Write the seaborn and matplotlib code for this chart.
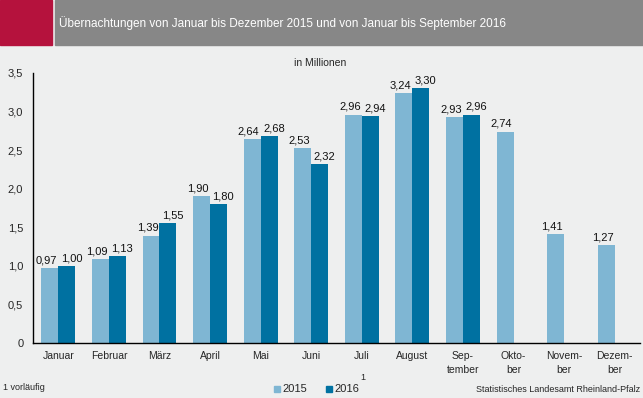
import matplotlib
matplotlib.use("Agg")
import matplotlib.pyplot as plt
import seaborn as sns
import numpy as np
import pandas as pd
from matplotlib.patches import Rectangle

months = ["Januar", "Februar", "März", "April", "Mai", "Juni", "Juli", "August",
          "Sep-\ntember", "Okto-\nber", "Novem-\nber", "Dezem-\nber"]
vals_2015 = [0.97, 1.09, 1.39, 1.90, 2.64, 2.53, 2.96, 3.24, 2.93, 2.74, 1.41, 1.27]
vals_2016 = [1.00, 1.13, 1.55, 1.80, 2.68, 2.32, 2.94, 3.30, 2.96, np.nan, np.nan, np.nan]
years = ["2015", "2016"]
yticks = [0, 0.5, 1.0, 1.5, 2.0, 2.5, 3.0, 3.5]

c15 = "#7fb6d3"
c16 = "#0071a1"
bg = "#eeefef"

df = pd.DataFrame({
    "Monat": months * 2,
    "Jahr": [years[0]] * 12 + [years[1]] * 12,
    "Wert": vals_2015 + vals_2016,
})

sns.set_style("white")
plt.rcParams['font.family'] = ['Liberation Sans', 'DejaVu Sans']

fig = plt.figure(figsize=(6.43, 3.98), dpi=100, facecolor=bg)
ax = fig.add_axes([33 / 643, 1 - 343 / 398, 607 / 643, 270 / 398])
ax.set_facecolor(bg)

sns.barplot(data=df, x="Monat", y="Wert", hue="Jahr", order=months,
            palette=[c15, c16], width=0.67, gap=0, ax=ax, legend=False,
            saturation=1, errorbar=None, linewidth=0)

# value labels, nudged outward like in the original
for cont, dx in zip(ax.containers, [-2.5, 3.5]):
    labels = ["" if np.isnan(v) else f"{v:.2f}".replace(".", ",") for v in cont.datavalues]
    anns = ax.bar_label(cont, labels=labels, padding=2, fontsize=8, color="#111111")
    for a in anns:
        a.xyann = (dx, 2)

ax.set_ylim(0, 3.5)
ax.set_xlim(-0.5, 11.5)
ax.set_yticks(yticks)
ax.set_yticklabels([f"{t:.1f}".replace(".", ",") if t else "0" for t in yticks], fontsize=8)
ax.set_xticks(np.arange(12))
ax.set_xticklabels(months, fontsize=7.5, linespacing=1.45)
ax.tick_params(axis="x", length=0, pad=6)
ax.set_xticks(np.arange(-0.5, 12, 1), minor=True)
ax.tick_params(axis="x", which="minor", length=4, width=1, direction="out", color="black")
ax.tick_params(axis="y", length=4, width=1, direction="out", color="black", pad=3)
ax.set_xlabel("")
ax.set_ylabel("")
for s in ["top", "right"]:
    ax.spines[s].set_visible(False)
for s in ["left", "bottom"]:
    ax.spines[s].set_color("black")
    ax.spines[s].set_linewidth(1)

# header band
fig.patches.append(Rectangle((0, 1 - 45 / 398), 52 / 643, 45 / 398,
                             transform=fig.transFigure, color="#b5123d", zorder=0))
fig.patches.append(Rectangle((55 / 643, 1 - 45 / 398), 588 / 643, 45 / 398,
                             transform=fig.transFigure, color="#878787", zorder=0))
fig.text(59 / 643, 1 - 23 / 398, "Übernachtungen von Januar bis Dezember 2015 und von Januar bis September 2016",
         color="white", fontsize=8.5, va="center", ha="left")

fig.text(320 / 643, 1 - 63 / 398, "in Millionen", fontsize=7.5, ha="center", va="center")

# footer
fig.text(3 / 643, 1 - 387 / 398, "1 vorläufig", fontsize=6.5, ha="left", va="center")
fig.text(640 / 643, 1 - 389 / 398, "Statistisches Landesamt Rheinland-Pfalz", fontsize=6.5,
         ha="right", va="center")
for x0, col, lab in [(274, c15, "2015"), (326, c16, "2016")]:
    fig.patches.append(Rectangle((x0 / 643, 1 - 392 / 398), 6 / 643, 6 / 398,
                                 transform=fig.transFigure, color=col))
    fig.text((x0 + 8) / 643, 1 - 389 / 398, lab, fontsize=8, ha="left", va="center")
fig.text(360 / 643, 1 - 378 / 398, "1", fontsize=6.5, ha="left", va="center")

fig.savefig("out.png", dpi=100, facecolor=bg)
